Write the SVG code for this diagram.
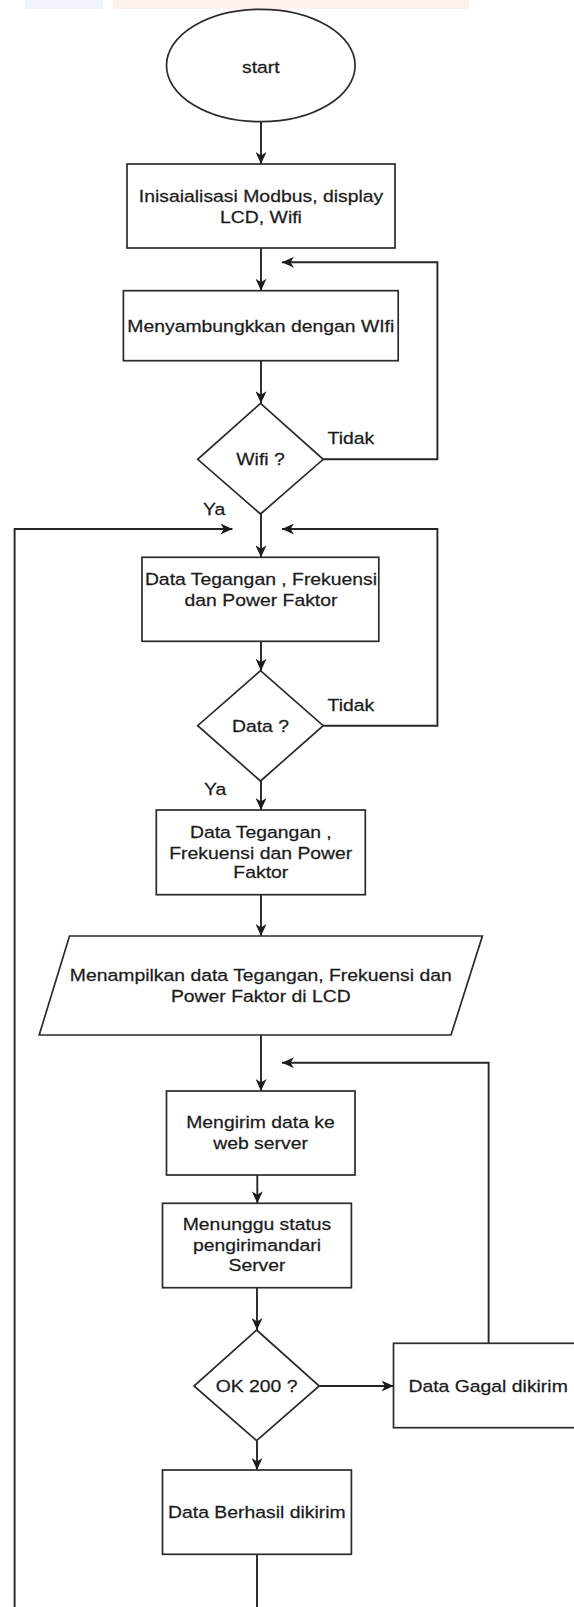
<svg xmlns="http://www.w3.org/2000/svg" width="574" height="1607" viewBox="0 0 574 1607">
<style>
.shape{fill:#ffffff;stroke:#2b2b2b;stroke-width:1.7}
.conn{fill:none;stroke:#262626;stroke-width:1.9}
.t{font-family:"Liberation Sans",Arial,sans-serif;font-size:17px;fill:#1c1c1c;stroke:#1c1c1c;stroke-width:0.25;text-anchor:middle}
.l{font-family:"Liberation Sans",Arial,sans-serif;font-size:17px;fill:#1c1c1c;stroke:#1c1c1c;stroke-width:0.25;text-anchor:start}
</style>
<defs>
<marker id="arr" markerUnits="userSpaceOnUse" markerWidth="13" markerHeight="11" refX="12" refY="5.5" orient="auto">
<path d="M0,0 L12,5.5 L0,11 L3.5,5.5 z" fill="#1c1c1c"/>
</marker>
</defs>
<rect x="0" y="0" width="574" height="1607" fill="#ffffff"/>
<g id="watermark">
<rect x="25" y="0" width="78" height="9" fill="#f1f4fb"/>
<rect x="113" y="0" width="356" height="9" fill="#fdf1eb"/>
</g>
<g id="connectors">
<line class="conn" x1="261" y1="121.7" x2="261" y2="164" marker-end="url(#arr)"/>
<line class="conn" x1="261" y1="248" x2="261" y2="290.7" marker-end="url(#arr)"/>
<line class="conn" x1="261" y1="360.7" x2="261" y2="403.3" marker-end="url(#arr)"/>
<polyline class="conn" points="323.2,459.3 437.4,459.3 437.4,262.3 282,262.3" marker-end="url(#arr)"/>
<line class="conn" x1="261" y1="514" x2="261" y2="557.3" marker-end="url(#arr)"/>
<polyline class="conn" points="14.6,1607 14.6,529 232.4,529" marker-end="url(#arr)"/>
<polyline class="conn" points="323.2,725.7 437.4,725.7 437.4,529 282,529" marker-end="url(#arr)"/>
<line class="conn" x1="261" y1="641.3" x2="261" y2="670.7" marker-end="url(#arr)"/>
<line class="conn" x1="261" y1="781" x2="261" y2="810" marker-end="url(#arr)"/>
<line class="conn" x1="261" y1="894.7" x2="261" y2="936" marker-end="url(#arr)"/>
<line class="conn" x1="261" y1="1035" x2="261" y2="1091" marker-end="url(#arr)"/>
<polyline class="conn" points="488.6,1343.3 488.6,1062.7 282,1062.7" marker-end="url(#arr)"/>
<line class="conn" x1="257.3" y1="1175" x2="257.3" y2="1203.3" marker-end="url(#arr)"/>
<line class="conn" x1="257" y1="1287.7" x2="257" y2="1330" marker-end="url(#arr)"/>
<line class="conn" x1="319.2" y1="1386" x2="393.5" y2="1386" marker-end="url(#arr)"/>
<line class="conn" x1="257" y1="1440.7" x2="257" y2="1470" marker-end="url(#arr)"/>
<line class="conn" x1="257" y1="1554.3" x2="257" y2="1607"/>
</g>
<g id="start">
<ellipse class="shape" cx="260.8" cy="65.5" rx="94.3" ry="56.2"/>
<text class="t" transform="translate(260.8,0) scale(1.14,1)" x="0" y="72.7">start</text>
</g>
<g id="init">
<rect class="shape" x="127" y="164" width="268" height="84"/>
<text class="t" transform="translate(261,0) scale(1.14,1)" x="0" y="201.7">Inisaialisasi Modbus, display</text>
<text class="t" transform="translate(261,0) scale(1.14,1)" x="0" y="222.7">LCD, Wifi</text>
</g>
<g id="connect">
<rect class="shape" x="123.4" y="290.7" width="274.8" height="70"/>
<text class="t" transform="translate(260.8,0) scale(1.14,1)" x="0" y="332">Menyambungkkan dengan WIfi</text>
</g>
<g id="wifi">
<polygon class="shape" points="260.5,403.3 323.2,459.3 260.5,514 197.7,459.3"/>
<text class="t" transform="translate(260.5,0) scale(1.14,1)" x="0" y="465.3">Wifi ?</text>
</g>
<g id="labels1">
<text class="l" transform="translate(327.6,0) scale(1.14,1)" x="0" y="444.3">Tidak</text>
<text class="l" transform="translate(203,0) scale(1.14,1)" x="0" y="515">Ya</text>
</g>
<g id="data1">
<rect class="shape" x="142" y="557.3" width="236.8" height="84"/>
<text class="t" transform="translate(261,0) scale(1.14,1)" x="0" y="585.3">Data Tegangan , Frekuensi</text>
<text class="t" transform="translate(261,0) scale(1.14,1)" x="0" y="606">dan Power Faktor</text>
</g>
<g id="dataq">
<polygon class="shape" points="260.5,670.7 323.2,725.7 260.5,781 197.7,725.7"/>
<text class="t" transform="translate(260.5,0) scale(1.14,1)" x="0" y="731.7">Data ?</text>
</g>
<g id="labels2">
<text class="l" transform="translate(327.6,0) scale(1.14,1)" x="0" y="711">Tidak</text>
<text class="l" transform="translate(203.9,0) scale(1.14,1)" x="0" y="795">Ya</text>
</g>
<g id="data2">
<rect class="shape" x="156.3" y="810" width="209" height="84.7"/>
<text class="t" transform="translate(260.8,0) scale(1.14,1)" x="0" y="837.7">Data Tegangan ,</text>
<text class="t" transform="translate(260.8,0) scale(1.14,1)" x="0" y="858.7">Frekuensi dan Power</text>
<text class="t" transform="translate(260.8,0) scale(1.14,1)" x="0" y="878.3">Faktor</text>
</g>
<g id="display">
<polygon class="shape" points="69.5,936 482.4,936 451,1035 39.2,1035"/>
<text class="t" transform="translate(260.8,0) scale(1.14,1)" x="0" y="981">Menampilkan data Tegangan, Frekuensi dan</text>
<text class="t" transform="translate(260.8,0) scale(1.14,1)" x="0" y="1002">Power Faktor di LCD</text>
</g>
<g id="send">
<rect class="shape" x="166.5" y="1091" width="188.5" height="84"/>
<text class="t" transform="translate(260.5,0) scale(1.14,1)" x="0" y="1127.7">Mengirim data ke</text>
<text class="t" transform="translate(260.5,0) scale(1.14,1)" x="0" y="1148.7">web server</text>
</g>
<g id="wait">
<rect class="shape" x="162.5" y="1203.3" width="188.9" height="84.4"/>
<text class="t" transform="translate(257,0) scale(1.14,1)" x="0" y="1230.3">Menunggu status</text>
<text class="t" transform="translate(257,0) scale(1.14,1)" x="0" y="1251">pengirimandari</text>
<text class="t" transform="translate(257,0) scale(1.14,1)" x="0" y="1271">Server</text>
</g>
<g id="ok">
<polygon class="shape" points="256.6,1330 319.2,1386 256.6,1440.7 194,1386"/>
<text class="t" transform="translate(256.6,0) scale(1.14,1)" x="0" y="1392">OK 200 ?</text>
</g>
<g id="gagal">
<rect class="shape" x="393.5" y="1343.3" width="190" height="84.4"/>
<text class="t" transform="translate(488.1,0) scale(1.14,1)" x="0" y="1392">Data Gagal dikirim</text>
</g>
<g id="berhasil">
<rect class="shape" x="162.5" y="1470" width="188.9" height="84.3"/>
<text class="t" transform="translate(256.8,0) scale(1.14,1)" x="0" y="1518.3">Data Berhasil dikirim</text>
</g>
</svg>
